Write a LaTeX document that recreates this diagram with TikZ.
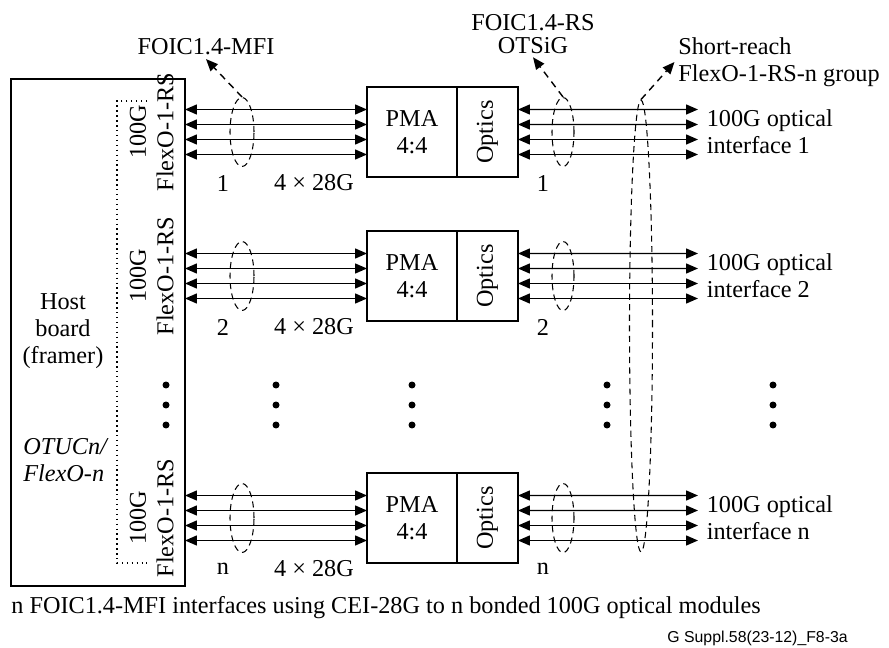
\documentclass[tikz,border=0pt]{standalone}
\usepackage{fontspec}
\setmainfont{Liberation Serif}
\newfontfamily\footfont{Liberation Sans}
\usetikzlibrary{arrows.meta,shapes.geometric,positioning,calc}

\begin{document}
\begin{tikzpicture}[x=0.02cm,y=-0.02cm,
  font=\fontsize{13.8}{15.5}\selectfont,
  box/.style={draw,line width=0.8pt,minimum height=1.8cm,inner sep=0pt,outer sep=0pt},
  lane/.style={line width=0.8pt,{Triangle[length=0.24cm,width=0.2cm]}-{Triangle[length=0.24cm,width=0.2cm]}},
  grp/.style={draw,ellipse,line width=0.6pt,dash pattern=on 3.5pt off 2.5pt,inner sep=0pt},
  pointer/.style={line width=0.8pt,dash pattern=on 4pt off 3pt,-{Triangle[length=0.24cm,width=0.2cm]}},
  lbl/.style={inner sep=2pt,align=center}]

\useasboundingbox (0,0) rectangle (889,648);

%%%% host board
\node[draw,line width=0.8pt,minimum width=3.48cm,minimum height=10.14cm,inner sep=0pt,outer sep=0pt] (host) at (98,332.5) {};
\node[lbl] (hosttxt) at (63,331) {Host\\board\\(framer)};
\node[lbl,anchor=west,align=left,font=\fontsize{13.8}{15.5}\selectfont\itshape] (otucn) at (19.5,460) {OTUCn/\\FlexO-n};
\draw[dotted,line width=0.8pt] (147,101) -- (117,101) -- (117,563) -- (147,563);

%%%% rows 1, 2, n
\foreach \r/\y in {1/132,2/276,n/518}{
  \node[box,minimum width=1.8cm,align=center] (pma\r) at (412,\y) {PMA\\4:4};
  \node[box,minimum width=1.22cm,right=0pt of pma\r] (opt\r) {};
  \node[rotate=90] (opttxt\r) at (opt\r) {Optics};
  %%%% lanes
  \foreach \k in {-22.5,-7.5,7.5,22.5}{
    \coordinate (in\r) at ($(pma\r.west)+(0,\k)$);
    \coordinate (out\r) at (698,\y+\k);
    \draw[lane] (host.east |- in\r) -- (in\r);
    \draw[lane] ($(opt\r.east)+(0,\k)$) -- (out\r);
  }
  %%%% bundles
  \node[grp,minimum width=0.48cm,minimum height=1.38cm] (mfi\r) at (242,\y) {};
  \node[grp,minimum width=0.44cm,minimum height=1.38cm] (rs\r) at (563,\y) {};
  %%%% texts
  \node[rotate=90] (g\r) at (138,\y) {100G};
  \node[rotate=90] (flexo\r) at (165,\y) {FlexO-1-RS};
  \node[lbl] (num\r) at (223,\y+51) {\r};
  \node[lbl] (rate\r) at (314,\y+51) {4 × 28G};
  \node[lbl] (numr\r) at (543,\y+51) {\r};
  \node[lbl,anchor=west,align=left] (optif\r) at (703,\y) {100G optical\\interface \r};
}

%%%% group of all optical interfaces
\node[grp,minimum width=0.46cm,minimum height=9.04cm] (rsgrp) at (641,326) {};

%%%% pointers
\node[lbl] (mfilbl) at (206,47) {FOIC1.4-MFI};
\draw[pointer] (mfi1.north) -- (mfilbl.south);
\node[lbl] (rslbl) at (533,34) {FOIC1.4-RS\\[-2.7pt]OTSiG};
\draw[pointer] (rs1.north) -- (rslbl.south);
\node[lbl,anchor=west,align=left] (grplbl) at (674.5,62) {Short-reach\\FlexO-1-RS-n group};
\draw[pointer] (rsgrp.north) -- (grplbl.west);

%%%% dots
\foreach \x in {166,276,412,607,773}
  \foreach \d in {385,405,425}
    \fill (\x,\d) circle (0.07cm);

%%%% caption
\node[lbl,anchor=west] (caption) at (7.5,608) {n FOIC1.4-MFI interfaces using CEI-28G to n bonded 100G optical modules};
\node[lbl,anchor=east,font=\footfont\fontsize{9}{11}\selectfont] (figid) at (851.5,638) {G Suppl.58(23-12)\_F8-3a};

\end{tikzpicture}
\end{document}
